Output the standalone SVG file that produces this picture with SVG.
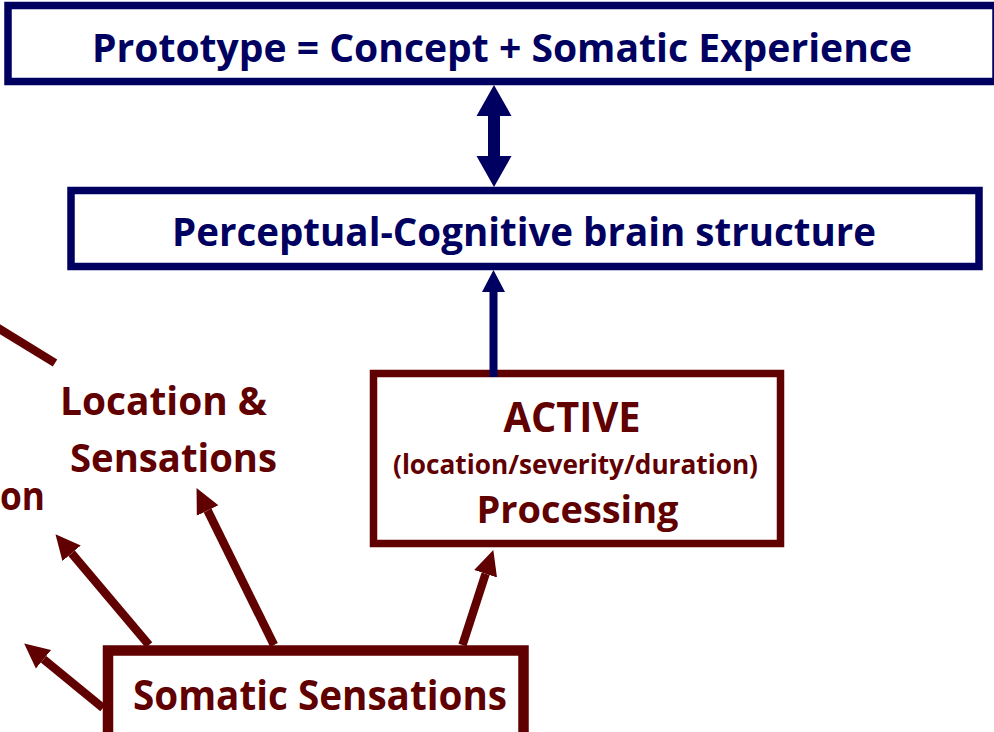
<svg xmlns="http://www.w3.org/2000/svg" width="994" height="732" viewBox="0 0 994 732">
<style>
text{font-family:"Open Sans","Liberation Sans",sans-serif;font-weight:700;text-anchor:middle}
.navy{fill:#000060}
.brown{fill:#600000}
.nbox{fill:#fff;stroke:#000060;stroke-width:7.5}
.bbox{fill:#fff;stroke:#600000}
.bl{stroke:#600000;stroke-width:8.5;fill:none}
</style>
<defs>
<marker id="bh" markerUnits="userSpaceOnUse" markerWidth="26" markerHeight="26" viewBox="0 -13 26 26" refX="0" refY="0" orient="auto">
<path d="M0,-12 L25,0 L0,12 Z" fill="#600000"/>
</marker>
</defs>
<rect width="994" height="732" fill="#fff"/>
<g id="prototype">
<rect class="nbox" x="8" y="5.5" width="988" height="76"/>
<text class="navy" x="502" y="62" font-size="39" textLength="820" lengthAdjust="spacingAndGlyphs">Prototype = Concept + Somatic Experience</text>
</g>
<g id="perceptual">
<rect class="nbox" x="71" y="190.5" width="908" height="76"/>
<text class="navy" x="524" y="246" font-size="39" textLength="704" lengthAdjust="spacingAndGlyphs">Perceptual-Cognitive brain structure</text>
</g>
<g id="active">
<rect class="bbox" x="373.5" y="373.5" width="407" height="170" stroke-width="7.5"/>
<text class="brown" x="572" y="432" font-size="41" textLength="137" lengthAdjust="spacingAndGlyphs">ACTIVE</text>
<text class="brown" x="575.5" y="474" font-size="26" textLength="365" lengthAdjust="spacingAndGlyphs">(location/severity/duration)</text>
<text class="brown" x="577.5" y="523" font-size="38" textLength="202" lengthAdjust="spacingAndGlyphs">Processing</text>
</g>
<g id="location">
<text class="brown" x="163.5" y="415" font-size="39" textLength="207" lengthAdjust="spacingAndGlyphs">Location &amp;</text>
<text class="brown" x="173.5" y="472" font-size="39" textLength="207" lengthAdjust="spacingAndGlyphs">Sensations</text>
</g>
<g id="partial-label">
<text class="brown" x="22.5" y="510" font-size="40" textLength="45" lengthAdjust="spacingAndGlyphs">on</text>
</g>
<g id="somatic">
<rect class="bbox" x="108" y="650.5" width="415.5" height="100" stroke-width="10.5"/>
<text class="brown" x="320" y="710" font-size="42" textLength="374" lengthAdjust="spacingAndGlyphs">Somatic Sensations</text>
</g>
<g id="connectors">
<polygon class="navy" points="494,85 511.5,116 500,116 500,156 511.5,156 494,187 476.5,156 488,156 488,116 476.5,116"/>
<polygon class="navy" points="493.5,270 505,292 497.5,292 497.5,377 489.5,377 489.5,292 482,292"/>
<line class="bl" x1="-10" y1="323" x2="55" y2="363"/>
<line class="bl" x1="103" y1="708" x2="43.5" y2="659.3" marker-end="url(#bh)"/>
<line class="bl" x1="149" y1="645" x2="71.6" y2="553.3" marker-end="url(#bh)"/>
<line class="bl" x1="274" y1="645" x2="207.6" y2="510.5" marker-end="url(#bh)"/>
<line class="bl" x1="462.5" y1="645" x2="485.6" y2="573.8" marker-end="url(#bh)"/>
</g>
</svg>
